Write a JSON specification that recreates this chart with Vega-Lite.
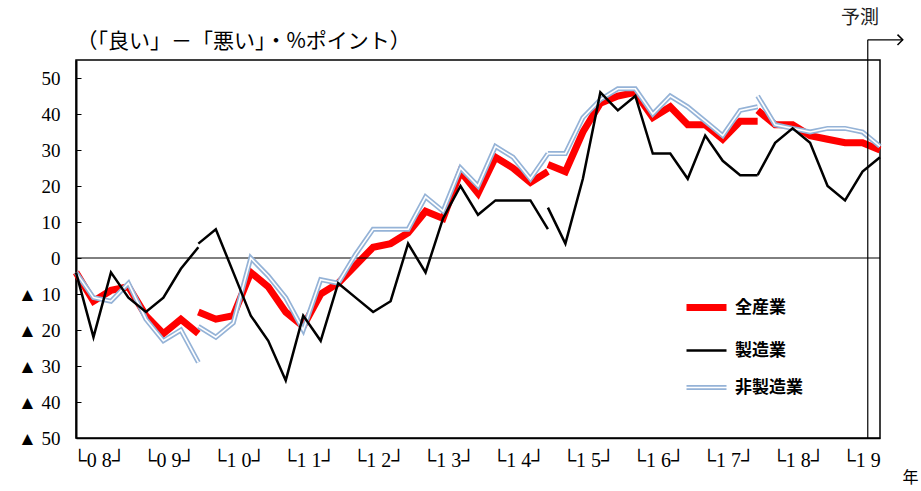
{
  "$schema": "https://vega.github.io/schema/vega-lite/v6.json",
  "width": 804,
  "height": 378,
  "autosize": "none",
  "padding": {"left": 76, "top": 60, "right": 41, "bottom": 53},
  "background": "white",
  "config": {
    "view": {"stroke": "black", "strokeWidth": 1.5},
    "font": "Liberation Serif",
    "axis": {"grid": false, "labelOverlap": false}
  },
  "datasets": {
    "main": [
      {"s":"全産業","g":1,"i":0,"v":-4},{"s":"全産業","g":1,"i":1,"v":-12},{"s":"全産業","g":1,"i":2,"v":-9},{"s":"全産業","g":1,"i":3,"v":-8},{"s":"全産業","g":1,"i":4,"v":-16},{"s":"全産業","g":1,"i":5,"v":-21},{"s":"全産業","g":1,"i":6,"v":-17},{"s":"全産業","g":1,"i":7,"v":-21},
      {"s":"全産業","g":2,"i":7,"v":-15},{"s":"全産業","g":2,"i":8,"v":-17},{"s":"全産業","g":2,"i":9,"v":-16},{"s":"全産業","g":2,"i":10,"v":-4},{"s":"全産業","g":2,"i":11,"v":-8},{"s":"全産業","g":2,"i":12,"v":-15},{"s":"全産業","g":2,"i":13,"v":-19},{"s":"全産業","g":2,"i":14,"v":-10},{"s":"全産業","g":2,"i":15,"v":-7},{"s":"全産業","g":2,"i":16,"v":-2},{"s":"全産業","g":2,"i":17,"v":3},{"s":"全産業","g":2,"i":18,"v":4},{"s":"全産業","g":2,"i":19,"v":7},{"s":"全産業","g":2,"i":20,"v":13},{"s":"全産業","g":2,"i":21,"v":11},{"s":"全産業","g":2,"i":22,"v":24},{"s":"全産業","g":2,"i":23,"v":18},{"s":"全産業","g":2,"i":24,"v":28},{"s":"全産業","g":2,"i":25,"v":25},{"s":"全産業","g":2,"i":26,"v":21},{"s":"全産業","g":2,"i":27,"v":24},
      {"s":"全産業","g":3,"i":27,"v":26},{"s":"全産業","g":3,"i":28,"v":24},{"s":"全産業","g":3,"i":29,"v":35},{"s":"全産業","g":3,"i":30,"v":43},{"s":"全産業","g":3,"i":31,"v":45},{"s":"全産業","g":3,"i":32,"v":46},{"s":"全産業","g":3,"i":33,"v":39},{"s":"全産業","g":3,"i":34,"v":42},{"s":"全産業","g":3,"i":35,"v":37},{"s":"全産業","g":3,"i":36,"v":37},{"s":"全産業","g":3,"i":37,"v":33},{"s":"全産業","g":3,"i":38,"v":38},{"s":"全産業","g":3,"i":39,"v":38},
      {"s":"全産業","g":4,"i":39,"v":41},{"s":"全産業","g":4,"i":40,"v":37},{"s":"全産業","g":4,"i":41,"v":37},{"s":"全産業","g":4,"i":42,"v":34},{"s":"全産業","g":4,"i":43,"v":33},{"s":"全産業","g":4,"i":44,"v":32},{"s":"全産業","g":4,"i":45,"v":32},{"s":"全産業","g":4,"i":46,"v":30},

      {"s":"製造業","g":1,"i":0,"v":-4},{"s":"製造業","g":1,"i":1,"v":-22},{"s":"製造業","g":1,"i":2,"v":-4},{"s":"製造業","g":1,"i":3,"v":-11},{"s":"製造業","g":1,"i":4,"v":-15},{"s":"製造業","g":1,"i":5,"v":-11},{"s":"製造業","g":1,"i":6,"v":-3},{"s":"製造業","g":1,"i":7,"v":3},
      {"s":"製造業","g":2,"i":7,"v":4},{"s":"製造業","g":2,"i":8,"v":8},{"s":"製造業","g":2,"i":9,"v":-4},{"s":"製造業","g":2,"i":10,"v":-16},{"s":"製造業","g":2,"i":11,"v":-23},{"s":"製造業","g":2,"i":12,"v":-34},{"s":"製造業","g":2,"i":13,"v":-16},{"s":"製造業","g":2,"i":14,"v":-23},{"s":"製造業","g":2,"i":15,"v":-7},{"s":"製造業","g":2,"i":16,"v":-11},{"s":"製造業","g":2,"i":17,"v":-15},{"s":"製造業","g":2,"i":18,"v":-12},{"s":"製造業","g":2,"i":19,"v":4},{"s":"製造業","g":2,"i":20,"v":-4},{"s":"製造業","g":2,"i":21,"v":11},{"s":"製造業","g":2,"i":22,"v":20},{"s":"製造業","g":2,"i":23,"v":12},{"s":"製造業","g":2,"i":24,"v":16},{"s":"製造業","g":2,"i":25,"v":16},{"s":"製造業","g":2,"i":26,"v":16},{"s":"製造業","g":2,"i":27,"v":8},
      {"s":"製造業","g":3,"i":27,"v":14},{"s":"製造業","g":3,"i":28,"v":4},{"s":"製造業","g":3,"i":29,"v":22},{"s":"製造業","g":3,"i":30,"v":46},{"s":"製造業","g":3,"i":31,"v":41},{"s":"製造業","g":3,"i":32,"v":45},{"s":"製造業","g":3,"i":33,"v":29},{"s":"製造業","g":3,"i":34,"v":29},{"s":"製造業","g":3,"i":35,"v":22},{"s":"製造業","g":3,"i":36,"v":34},{"s":"製造業","g":3,"i":37,"v":27},{"s":"製造業","g":3,"i":38,"v":23},{"s":"製造業","g":3,"i":39,"v":23},
      {"s":"製造業","g":4,"i":39,"v":23},{"s":"製造業","g":4,"i":40,"v":32},{"s":"製造業","g":4,"i":41,"v":36},{"s":"製造業","g":4,"i":42,"v":32},{"s":"製造業","g":4,"i":43,"v":20},{"s":"製造業","g":4,"i":44,"v":16},{"s":"製造業","g":4,"i":45,"v":24},{"s":"製造業","g":4,"i":46,"v":28},

      {"s":"非製造業","g":1,"i":0,"v":-4},{"s":"非製造業","g":1,"i":1,"v":-11},{"s":"非製造業","g":1,"i":2,"v":-12},{"s":"非製造業","g":1,"i":3,"v":-7},{"s":"非製造業","g":1,"i":4,"v":-17},{"s":"非製造業","g":1,"i":5,"v":-23},{"s":"非製造業","g":1,"i":6,"v":-20},{"s":"非製造業","g":1,"i":7,"v":-29},
      {"s":"非製造業","g":2,"i":7,"v":-19},{"s":"非製造業","g":2,"i":8,"v":-22},{"s":"非製造業","g":2,"i":9,"v":-18},{"s":"非製造業","g":2,"i":10,"v":0},{"s":"非製造業","g":2,"i":11,"v":-5},{"s":"非製造業","g":2,"i":12,"v":-11},{"s":"非製造業","g":2,"i":13,"v":-20},{"s":"非製造業","g":2,"i":14,"v":-6},{"s":"非製造業","g":2,"i":15,"v":-7},{"s":"非製造業","g":2,"i":16,"v":1},{"s":"非製造業","g":2,"i":17,"v":8},{"s":"非製造業","g":2,"i":18,"v":8},{"s":"非製造業","g":2,"i":19,"v":8},{"s":"非製造業","g":2,"i":20,"v":17},{"s":"非製造業","g":2,"i":21,"v":13},{"s":"非製造業","g":2,"i":22,"v":25},{"s":"非製造業","g":2,"i":23,"v":20},{"s":"非製造業","g":2,"i":24,"v":31},{"s":"非製造業","g":2,"i":25,"v":28},{"s":"非製造業","g":2,"i":26,"v":22},{"s":"非製造業","g":2,"i":27,"v":29},
      {"s":"非製造業","g":3,"i":27,"v":29},{"s":"非製造業","g":3,"i":28,"v":29},{"s":"非製造業","g":3,"i":29,"v":39},{"s":"非製造業","g":3,"i":30,"v":44},{"s":"非製造業","g":3,"i":31,"v":47},{"s":"非製造業","g":3,"i":32,"v":47},{"s":"非製造業","g":3,"i":33,"v":40},{"s":"非製造業","g":3,"i":34,"v":45},{"s":"非製造業","g":3,"i":35,"v":42},{"s":"非製造業","g":3,"i":36,"v":38},{"s":"非製造業","g":3,"i":37,"v":34},{"s":"非製造業","g":3,"i":38,"v":41},{"s":"非製造業","g":3,"i":39,"v":42},
      {"s":"非製造業","g":4,"i":39,"v":45},{"s":"非製造業","g":4,"i":40,"v":37},{"s":"非製造業","g":4,"i":41,"v":36},{"s":"非製造業","g":4,"i":42,"v":35},{"s":"非製造業","g":4,"i":43,"v":36},{"s":"非製造業","g":4,"i":44,"v":36},{"s":"非製造業","g":4,"i":45,"v":35},{"s":"非製造業","g":4,"i":46,"v":31}
    ]
  },
  "layer": [
    {
      "data": {"name": "main"},
      "transform": [{"filter": "datum.s === '全産業'"}],
      "mark": {"type": "line", "strokeJoin": "miter", "strokeCap": "butt", "strokeWidth": 7},
      "encoding": {
        "x": {
          "field": "i", "type": "quantitative",
          "scale": {"domain": [0, 46], "nice": false, "zero": false},
          "axis": {
            "title": "年",
            "values": [0, 4, 8, 12, 16, 20, 24, 28, 32, 36, 40, 44],
            "tickCount": 50,
            "labelExpr": "'└' + substring(format(floor(datum.value/4)+8,'02d'),0,1) + ' ' + substring(format(floor(datum.value/4)+8,'02d'),1,2) + (datum.value < 44 ? '┘' : '')",
            "labelAlign": "left", "labelOffset": -4, "labelOverlap": false, "labelFlush": false,
            "ticks": false, "labelPadding": 12,
            "labelFont": "Liberation Serif, DejaVu Serif, serif", "labelFontSize": 20, "labelColor": "black",
            "domainColor": "black", "domainWidth": 1.5,
            "titleFont": "Noto Sans CJK JP", "titleFontSize": 16, "titleFontWeight": "normal", "titleColor": "black",
            "titleX": 834, "titleY": 39, "titleAlign": "center", "titleBaseline": "middle"
          }
        },
        "y": {
          "field": "v", "type": "quantitative",
          "scale": {"domain": [-50, 55], "nice": false, "zero": false},
          "axis": {
            "title": "（「良い」－「悪い」・%ポイント）",
            "values": [-50, -40, -30, -20, -10, 0, 10, 20, 30, 40, 50],
            "tickCount": 20,
            "labelExpr": "datum.value < 0 ? '▲ ' + (-datum.value) : '' + datum.value",
            "labelFont": "Liberation Serif, DejaVu Serif, serif", "labelFontSize": 19, "labelColor": "black",
            "labelOverlap": false, "labelFlush": false, "labelBound": false,
            "tickSize": -5, "tickColor": "black", "tickWidth": 1,
            "labelPadding": 21,
            "domainColor": "black", "domainWidth": 2,
            "titleAngle": 0, "titleX": 0, "titleY": -19, "titleAlign": "left", "titleBaseline": "middle",
            "titleFont": "Noto Sans CJK JP", "titleFontSize": 21, "titleFontWeight": "normal", "titleColor": "black"
          }
        },
        "detail": {"field": "g"},
        "color": {
          "field": "s", "type": "nominal",
          "scale": {"domain": ["全産業", "製造業", "非製造業"], "range": ["#ff0000", "#000000", "#95b3d7"]},
          "legend": {
            "orient": "none", "legendX": 622, "legendY": 239, "title": null,
            "symbolType": "stroke", "symbolSize": 1600, "rowPadding": 19,
            "labelFont": "Noto Sans CJK JP", "labelFontSize": 17, "labelFontWeight": "bold", "labelColor": "black",
            "labelOffset": 20,
            "encode": {
              "symbols": {
                "update": {
                  "strokeWidth": {"signal": "datum.value === '全産業' ? 7 : datum.value === '製造業' ? 2.5 : 1.7"},
                  "shape": {"signal": "datum.value === '非製造業' ? 'M-1,-0.085H1M-1,0.085H1' : 'stroke'"}
                }
              }
            }
          }
        }
      }
    },
    {
      "data": {"values": [{"z": 0}]},
      "mark": {"type": "rule", "color": "black", "strokeWidth": 1},
      "encoding": {
        "y": {"field": "z", "type": "quantitative"}
      }
    },
    {
      "data": {"name": "main"},
      "transform": [{"filter": "datum.s === '非製造業'"}],
      "mark": {"type": "line", "strokeJoin": "miter", "strokeCap": "butt", "strokeWidth": 5},
      "encoding": {
        "x": {"field": "i", "type": "quantitative"},
        "y": {"field": "v", "type": "quantitative"},
        "detail": {"field": "g"},
        "color": {"field": "s", "type": "nominal"}
      }
    },
    {
      "data": {"name": "main"},
      "transform": [{"filter": "datum.s === '非製造業'"}],
      "mark": {"type": "line", "strokeJoin": "miter", "strokeCap": "butt", "strokeWidth": 1.6, "color": "white"},
      "encoding": {
        "x": {"field": "i", "type": "quantitative"},
        "y": {"field": "v", "type": "quantitative"},
        "detail": {"field": "g"}
      }
    },
    {
      "data": {"name": "main"},
      "transform": [{"filter": "datum.s === '製造業'"}],
      "mark": {"type": "line", "strokeJoin": "miter", "strokeCap": "butt", "strokeWidth": 2.5},
      "encoding": {
        "x": {"field": "i", "type": "quantitative"},
        "y": {"field": "v", "type": "quantitative"},
        "detail": {"field": "g"},
        "color": {"field": "s", "type": "nominal"}
      }
    },
    {
      "data": {"values": [{"x": 45.3, "ya": -50, "yb": 60.6}]},
      "mark": {"type": "rule", "color": "black", "strokeWidth": 1.2, "clip": false},
      "encoding": {
        "x": {"field": "x", "type": "quantitative"},
        "y": {"field": "ya", "type": "quantitative"},
        "y2": {"field": "yb"}
      }
    },
    {
      "data": {"values": [{"xa": 45.3, "xb": 47.3, "y": 60.6}]},
      "mark": {"type": "rule", "color": "black", "strokeWidth": 1.2, "clip": false},
      "encoding": {
        "x": {"field": "xa", "type": "quantitative"},
        "x2": {"field": "xb"},
        "y": {"field": "y", "type": "quantitative"}
      }
    },
    {
      "data": {"values": [{"x": 47.3, "y": 60.6}]},
      "mark": {"type": "point", "shape": "M-1,-1L0,0L-1,1", "filled": false, "stroke": "black", "strokeWidth": 1.5, "size": 110, "opacity": 1, "clip": false},
      "encoding": {
        "x": {"field": "x", "type": "quantitative"},
        "y": {"field": "y", "type": "quantitative"}
      }
    },
    {
      "data": {"values": [{"x": 44.85, "y": 66.8, "t": "予測"}]},
      "mark": {"type": "text", "font": "Noto Sans CJK JP", "fontSize": 19, "color": "#222222", "align": "center", "baseline": "middle", "clip": false},
      "encoding": {
        "x": {"field": "x", "type": "quantitative"},
        "y": {"field": "y", "type": "quantitative"},
        "text": {"field": "t"}
      }
    }
  ]
}
